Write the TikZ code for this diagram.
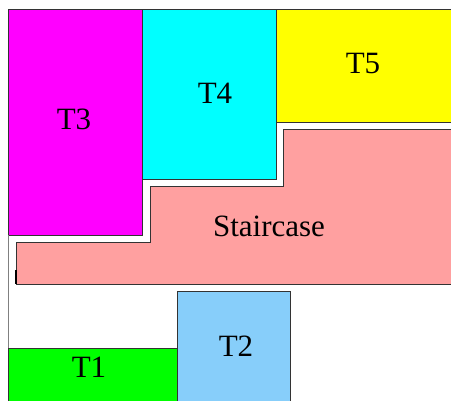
\documentclass[tikz,border=0pt]{standalone}
\usepackage{fontspec}
\setmainfont{Liberation Serif}
\definecolor{stairpink}{RGB}{255,160,160}
\definecolor{skyblue}{RGB}{135,206,250}
\definecolor{roommagenta}{RGB}{255,0,255}
\definecolor{roomcyan}{RGB}{0,255,255}
\definecolor{roomyellow}{RGB}{255,255,0}
\definecolor{roomgreen}{RGB}{0,255,0}

\begin{document}
\begin{tikzpicture}[x=1pt,y=-1pt,
    room/.style={draw=black!80, line width=0.8pt},
    lbl/.style={font=\fontsize{31}{31}\selectfont, inner sep=0pt}]
    \useasboundingbox (0,0) rectangle (451,400);
    \clip (0,0) rectangle (451,400);
    % rooms
    \filldraw[room, fill=roommagenta] (8,9) rectangle (142,235);
    \filldraw[room, fill=roomcyan] (142,9) rectangle (276,179);
    \filldraw[room, fill=roomyellow] (276,9) rectangle (460,122);
    \filldraw[room, fill=stairpink] (283,129) -- (460,129) -- (460,284) -- (16,284)
        -- (16,242) -- (150,242) -- (150,186) -- (283,186) -- cycle;
    \filldraw[room, fill=roomgreen] (8,348) rectangle (177,410);
    \filldraw[room, fill=skyblue] (177,291) rectangle (290,410);
    \draw[black!50, line width=0.8pt] (8,235) -- (8,348);
    \draw[line width=1.6pt] (16,270) -- (16,284);
    % labels
    \node[lbl] (t3) at (74,119) {T3};
    \node[lbl] (t4) at (215,93) {T4};
    \node[lbl] (t5) at (363,63) {T5};
    \node[lbl] (stair) at (269,226) {Staircase};
    \node[lbl] (t1) at (89,367) {T1};
    \node[lbl] (t2) at (236,346) {T2};
\end{tikzpicture}
\end{document}
